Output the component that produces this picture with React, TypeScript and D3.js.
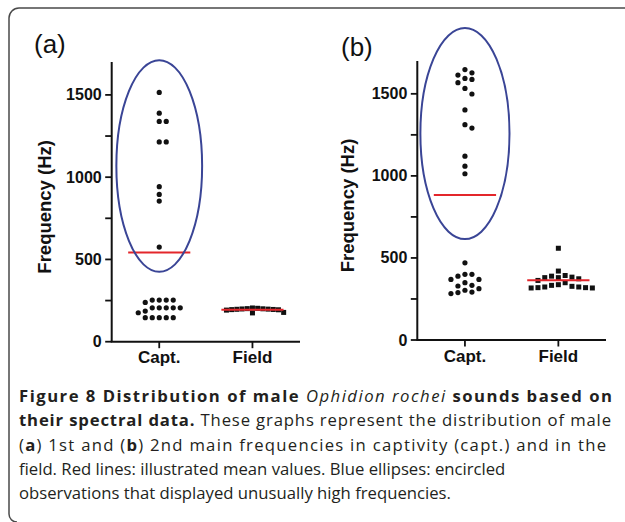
import * as d3 from 'd3'

// values (Hz)
const captA = [1515, 1389, 1339, 1339, 1214, 1214, 942, 895, 855, 575, 253, 253, 253, 253, 239, 206, 206, 206, 206, 206, 186, 176, 146, 146, 146, 146, 146]
const fieldA = [205, 203, 201, 200, 199, 198, 197, 196, 195, 194, 192, 178, 175]
const captB = [1648, 1628, 1614, 1594, 1568, 1588, 1533, 1499, 1402, 1312, 1291, 1120, 1059, 1013, 470, 400, 389, 400, 369, 369, 349, 333, 329, 313, 303, 292, 283, 289]
const fieldB = [559, 420, 389, 380, 373, 380, 383, 393, 363, 349, 337, 323, 319, 317, 317, 319, 323, 327, 333]

const categories = ['Capt.', 'Field']
const majorTicks = [0, 500, 1000, 1500]
const minorTicks = [250, 750, 1250]
const Y_MAX = 1700

// blue ellipses around the unusually high values (centre / half height in Hz)
const ellipseA = { cy: 1068, ry: 643, rxFrac: 0.46 }
const ellipseB = { cy: 1258, ry: 643, rxFrac: 0.477 }

const captionLines: { text: string; weight?: number; italic?: boolean }[][] = [
  [
    { text: 'Figure 8 Distribution of male ', weight: 700 },
    { text: 'Ophidion rochei', italic: true },
    { text: ' sounds based on', weight: 700 },
  ],
  [
    { text: 'their spectral data.', weight: 700 },
    { text: ' These graphs represent the distribution of male' },
  ],
  [
    { text: '(' },
    { text: 'a', weight: 700 },
    { text: ') 1st and (' },
    { text: 'b', weight: 700 },
    { text: ') 2nd main frequencies in captivity (capt.) and in the' },
  ],
  [{ text: 'field. Red lines: illustrated mean values. Blue ellipses: encircled' }],
  [{ text: 'observations that displayed unusually high frequencies.' }],
]
// justified lines: width they fill in the figure (last two are ragged)
const captionWidths: (number | null)[] = [593, 592, 587, null, null]

type Ellipse = { cy: number; ry: number; rxFrac: number }

// greedy swarm layout, rows like a scatter dot plot
function swarm(values: number[], y: (v: number) => number, d: number) {
  const placed: { v: number; dx: number; py: number }[] = []
  const sorted = [...values].sort((a, b) => b - a)
  for (const v of sorted) {
    const py = y(v)
    let k = 0
    while (true) {
      const dx = k === 0 ? 0 : (k % 2 === 1 ? 1 : -1) * Math.ceil(k / 2) * d
      const hit = placed.some((p) => (p.dx - dx) ** 2 + (p.py - py) ** 2 < d * d * 0.85)
      if (!hit) {
        placed.push({ v, dx, py })
        break
      }
      k++
    }
  }
  return placed
}

type PanelProps = {
  label: string
  capt: number[]
  field: number[]
  ellipse: Ellipse
  x0: number
  x1: number
  y0: number
  yTop: number
  labelX: number
  labelY: number
  titleX: number
  fieldGap: number
}

function Panel({ label, capt, field, ellipse, x0, x1, y0, yTop, labelX, labelY, titleX, fieldGap }: PanelProps) {
  const font = 'Liberation Sans, Arial, sans-serif'
  const x = d3.scalePoint<string>().domain(categories).range([x0, x1]).padding(0.51)
  const y = d3.scaleLinear().domain([0, Y_MAX]).range([y0, yTop])
  const step = x.step()

  const cx = x('Capt.')!
  const fx = x('Field')!
  const captPts = swarm(capt, y, 7)
  const fieldPts = swarm(field, y, fieldGap)
  const means = [
    { cat: 'Capt.', m: d3.mean(capt)! },
    { cat: 'Field', m: d3.mean(field)! },
  ]
  const half = step / 3

  return (
    <g>
      <text x={labelX} y={labelY} fontFamily={font} fontSize={26} fill="#111">
        {label}
      </text>
      <text
        transform={`translate(${titleX},${(y0 + yTop) / 2 + 5}) rotate(-90)`}
        textAnchor="middle"
        fontFamily={font}
        fontWeight={700}
        fontSize={18.5}
        fill="#111"
      >
        Frequency (Hz)
      </text>

      {/* y axis */}
      <line x1={x0} x2={x0} y1={yTop} y2={y0} stroke="#111" strokeWidth={2} />
      {[...majorTicks, ...minorTicks].map((t) => (
        <line key={t} x1={x0 - 6.5} x2={x0} y1={y(t)} y2={y(t)} stroke="#111" strokeWidth={1.8} />
      ))}
      {majorTicks.map((t) => (
        <text
          key={t}
          x={x0 - 10}
          y={y(t) + 5.5}
          textAnchor="end"
          fontFamily={font}
          fontWeight={700}
          fontSize={16}
          fill="#111"
        >
          {t}
        </text>
      ))}

      {/* x axis */}
      <line x1={x0 - 1} x2={x1} y1={y0} y2={y0} stroke="#111" strokeWidth={2} />
      {categories.map((c) => (
        <g key={c}>
          <line x1={x(c)} x2={x(c)} y1={y0} y2={y0 + 6.5} stroke="#111" strokeWidth={1.8} />
          <text
            x={x(c)}
            y={y0 + 21.5}
            textAnchor="middle"
            fontFamily={font}
            fontWeight={700}
            fontSize={17}
            fill="#111"
          >
            {c}
          </text>
        </g>
      ))}

      {/* points */}
      {captPts.map((p, i) => (
        <circle key={'c' + i} cx={cx + p.dx} cy={p.py} r={2.6} fill="#111" />
      ))}
      {fieldPts.map((p, i) => (
        <rect key={'f' + i} x={fx + p.dx - 2.5} y={p.py - 2.5} width={5} height={5} fill="#111" />
      ))}

      {/* mean lines */}
      {means.map((d) => (
        <line
          key={d.cat}
          x1={x(d.cat)! - half}
          x2={x(d.cat)! + half}
          y1={y(d.m)}
          y2={y(d.m)}
          stroke="#e3262b"
          strokeWidth={2}
        />
      ))}

      <ellipse
        cx={cx}
        cy={y(ellipse.cy)}
        rx={step * ellipse.rxFrac}
        ry={y(0) - y(ellipse.ry)}
        fill="none"
        stroke="#3a4596"
        strokeWidth={2}
      />
    </g>
  )
}

export default function App() {
  return (
    <svg
      width={625}
      height={522}
      viewBox="0 0 625 522"
      style={{ position: 'absolute', left: 0, top: 0, background: '#fff' }}
    >
      <rect width={625} height={522} fill="#fff" />
      <path d="M625,8 H19 A10,10 0 0 0 9,18 V514 A8,8 0 0 0 17,522" fill="none" stroke="#4a4a4a" strokeWidth={1.5} />

      <Panel
        label="(a)"
        capt={captA}
        field={fieldA}
        ellipse={ellipseA}
        x0={111.7}
        x1={300}
        y0={341.7}
        yTop={62}
        labelX={34}
        labelY={53}
        titleX={51}
        fieldGap={5.2}
      />
      <Panel
        label="(b)"
        capt={captB}
        field={fieldB}
        ellipse={ellipseB}
        x0={417.3}
        x1={606}
        y0={340}
        yTop={61}
        labelX={341}
        labelY={56}
        titleX={354}
        fieldGap={6.8}
      />

      <g fontFamily="Open Sans, sans-serif" fontSize={16.7} fill="#231f20">
        {captionLines.map((line, i) => {
          const w = captionWidths[i]
          return (
            <text
              key={i}
              x={19}
              y={402 + i * 24.3}
              textLength={w ?? undefined}
              lengthAdjust={w ? 'spacing' : undefined}
            >
              {line.map((s, j) => (
                <tspan key={j} fontWeight={s.weight ?? 400} fontStyle={s.italic ? 'italic' : 'normal'}>
                  {s.text}
                </tspan>
              ))}
            </text>
          )
        })}
      </g>
    </svg>
  )
}
